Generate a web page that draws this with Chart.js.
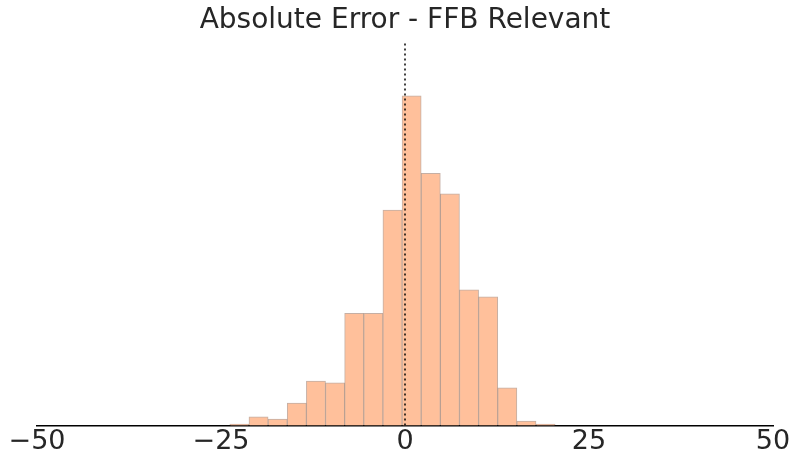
<!DOCTYPE html>
<html><head><script src="https://cdn.jsdelivr.net/npm/chart.js@4"></script>
<style>html,body{margin:0;background:#fff}#w{width:800px;height:470px}</style></head>
<body><div id="w"><canvas id="c"></canvas></div>
<script>
const binStart = -23.8;
const binWidth = 2.6;
const counts = [1.5, 8.5, 6.5, 22, 43.7, 42, 110, 110, 211, 323, 247, 227, 133, 126, 37, 4.5, 1.5];
const xTicks = [-50, -25, 0, 25, 50];
const barData = counts.map((v, i) => ({x: binStart + binWidth * (i + 0.5), y: v}));
new Chart(document.getElementById('c'), {
  data: {datasets: [
    {type: 'bar', data: barData, backgroundColor: '#ffc09b', borderColor: 'rgba(150,110,90,0.55)', borderWidth: 1, barPercentage: 1, categoryPercentage: 1, grouped: false, order: 2},
    {type: 'line', data: [{x: 0, y: 0}, {x: 0, y: 376}], borderColor: '#000', borderWidth: 1.5, borderDash: [2, 3], pointRadius: 0, order: 1}
  ]},
  options: {
    responsive: true, maintainAspectRatio: false, animation: false,
    layout: {padding: {left: 37, right: 27, top: 0, bottom: 12}},
    plugins: {legend: {display: false}, tooltip: {enabled: false},
      title: {display: true, text: 'Absolute Error - FFB Relevant', color: '#262626', font: {family: 'DejaVu Sans', size: 28, weight: 'normal'}, padding: {top: 4, bottom: 4}}},
    scales: {
      x: {type: 'linear', min: -50, max: 50, offset: false, afterBuildTicks: s => { s.ticks = xTicks.map(v => ({value: v})); },
        grid: {display: false, drawTicks: false, offset: false}, border: {color: '#000', width: 1.5},
        ticks: {color: '#262626', font: {family: 'DejaVu Sans', size: 27}, padding: 0, maxRotation: 0, callback: v => String(v).replace('-', '\u2212')}},
      y: {min: 0, max: 376, display: false}
    }
  }
});
</script></body></html>
